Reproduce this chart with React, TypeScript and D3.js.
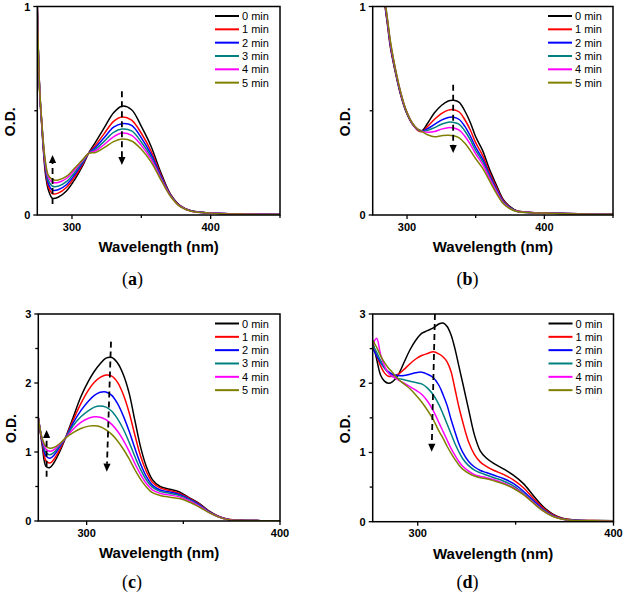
import React from "react";
import * as d3 from "d3";

const LABELS = ["0 min", "1 min", "2 min", "3 min", "4 min", "5 min"];
const COLORS = ["#000000", "#ff0000", "#0000ff", "#008080", "#ff00ff", "#808000"];

// ---------- panel (a)
const WL_A = [275, 276, 277, 278, 279.5, 281, 283, 286, 290, 296, 302, 308, 312, 317, 323, 330, 336, 343, 350, 357, 364, 371, 378, 386, 400, 425, 450];
const A0 = [1.0, 0.72, 0.55, 0.45, 0.3, 0.19, 0.12, 0.08, 0.085, 0.115, 0.17, 0.24, 0.297, 0.35, 0.415, 0.49, 0.522, 0.505, 0.425, 0.33, 0.205, 0.1, 0.045, 0.02, 0.01, 0.005, 0.002];
const A1 = [1.0, 0.72, 0.556, 0.456, 0.312, 0.208, 0.137, 0.102, 0.105, 0.132, 0.183, 0.247, 0.296, 0.335, 0.388, 0.449, 0.47, 0.455, 0.392, 0.307, 0.195, 0.097, 0.044, 0.019, 0.01, 0.005, 0.002];
const A2 = [1.0, 0.725, 0.56, 0.46, 0.32, 0.22, 0.15, 0.119, 0.121, 0.145, 0.194, 0.252, 0.296, 0.325, 0.369, 0.421, 0.438, 0.43, 0.37, 0.292, 0.188, 0.095, 0.043, 0.019, 0.0095, 0.0045, 0.002];
const A3 = [1.0, 0.727, 0.564, 0.464, 0.327, 0.231, 0.165, 0.138, 0.138, 0.16, 0.205, 0.258, 0.296, 0.316, 0.352, 0.396, 0.412, 0.403, 0.35, 0.279, 0.181, 0.093, 0.042, 0.0185, 0.0093, 0.0043, 0.002];
const A4 = [1.0, 0.728, 0.567, 0.467, 0.333, 0.24, 0.18, 0.157, 0.156, 0.175, 0.217, 0.264, 0.296, 0.308, 0.337, 0.375, 0.393, 0.382, 0.334, 0.268, 0.176, 0.092, 0.041, 0.0183, 0.0092, 0.0042, 0.002];
const A5 = [1.0, 0.73, 0.57, 0.47, 0.34, 0.25, 0.19, 0.17, 0.168, 0.185, 0.225, 0.268, 0.295, 0.3, 0.322, 0.352, 0.364, 0.355, 0.315, 0.255, 0.17, 0.09, 0.04, 0.018, 0.009, 0.004, 0.002];

// ---------- panel (b)
const WL_B = [282, 284, 286, 288, 291, 295, 299, 304, 308, 311, 315, 320, 325, 330, 334, 338, 342, 346, 350, 355, 360, 365, 370, 375, 380, 390, 400, 425, 450];
const B0 = [1.12, 1.0, 0.9, 0.8, 0.7, 0.585, 0.5, 0.435, 0.41, 0.405, 0.44, 0.49, 0.525, 0.547, 0.55, 0.54, 0.5, 0.445, 0.375, 0.31, 0.22, 0.145, 0.075, 0.04, 0.02, 0.012, 0.01, 0.006, 0.003];
const B1 = [1.128, 1.008, 0.908, 0.808, 0.705, 0.589, 0.503, 0.436, 0.405, 0.4, 0.425, 0.459, 0.486, 0.503, 0.505, 0.494, 0.458, 0.409, 0.347, 0.287, 0.205, 0.134, 0.07, 0.037, 0.019, 0.012, 0.01, 0.006, 0.003];
const B2 = [1.134, 1.014, 0.914, 0.814, 0.71, 0.592, 0.505, 0.437, 0.408, 0.402, 0.414, 0.435, 0.455, 0.468, 0.469, 0.458, 0.426, 0.38, 0.325, 0.269, 0.194, 0.126, 0.065, 0.035, 0.018, 0.0115, 0.0095, 0.0055, 0.003];
const B3 = [1.139, 1.019, 0.919, 0.819, 0.712, 0.594, 0.506, 0.438, 0.41, 0.402, 0.406, 0.419, 0.435, 0.445, 0.444, 0.435, 0.404, 0.361, 0.31, 0.257, 0.186, 0.12, 0.063, 0.034, 0.018, 0.0113, 0.0093, 0.0053, 0.003];
const B4 = [1.143, 1.023, 0.923, 0.823, 0.716, 0.597, 0.508, 0.439, 0.41, 0.401, 0.397, 0.4, 0.412, 0.419, 0.417, 0.407, 0.379, 0.34, 0.293, 0.244, 0.177, 0.114, 0.059, 0.032, 0.018, 0.0112, 0.0092, 0.0052, 0.003];
const B5 = [1.15, 1.03, 0.93, 0.83, 0.72, 0.6, 0.51, 0.44, 0.41, 0.4, 0.385, 0.375, 0.38, 0.383, 0.38, 0.37, 0.345, 0.31, 0.27, 0.225, 0.165, 0.105, 0.055, 0.03, 0.017, 0.011, 0.009, 0.005, 0.003];

// ---------- panel (c)
const WL_C = [275, 277, 279, 281, 283, 286, 289, 293, 297, 301, 304, 307, 310, 313, 316, 319, 322, 325, 328, 331, 334, 338, 343, 348, 353, 358, 363, 368, 373, 380, 390, 400];
const C0 = [1.5, 1.1, 0.79, 0.775, 0.84, 1.0, 1.2, 1.5, 1.8, 2.03, 2.17, 2.28, 2.36, 2.37, 2.29, 2.12, 1.85, 1.45, 1.06, 0.78, 0.6, 0.5, 0.46, 0.42, 0.34, 0.26, 0.15, 0.07, 0.025, 0.01, 0.005, 0.004];
const C1 = [1.5, 1.14, 0.87, 0.84, 0.89, 1.03, 1.2, 1.46, 1.7, 1.9, 2.01, 2.08, 2.115, 2.1, 2.01, 1.83, 1.57, 1.24, 0.93, 0.71, 0.56, 0.48, 0.44, 0.4, 0.33, 0.25, 0.145, 0.068, 0.024, 0.01, 0.005, 0.004];
const C2 = [1.5, 1.16, 0.94, 0.91, 0.95, 1.07, 1.2, 1.42, 1.6, 1.74, 1.82, 1.865, 1.87, 1.82, 1.7, 1.52, 1.3, 1.05, 0.82, 0.64, 0.52, 0.45, 0.42, 0.385, 0.32, 0.24, 0.14, 0.066, 0.023, 0.009, 0.005, 0.004];
const C3 = [1.5, 1.18, 0.99, 0.96, 0.99, 1.09, 1.2, 1.38, 1.51, 1.6, 1.65, 1.667, 1.65, 1.59, 1.48, 1.33, 1.14, 0.93, 0.74, 0.59, 0.49, 0.43, 0.4, 0.37, 0.31, 0.23, 0.135, 0.064, 0.022, 0.009, 0.005, 0.004];
const C4 = [1.5, 1.19, 1.04, 1.01, 1.03, 1.11, 1.2, 1.33, 1.43, 1.49, 1.51, 1.505, 1.47, 1.4, 1.3, 1.17, 1.01, 0.83, 0.67, 0.54, 0.45, 0.4, 0.375, 0.35, 0.295, 0.22, 0.13, 0.062, 0.022, 0.009, 0.005, 0.004];
const C5 = [1.5, 1.2, 1.08, 1.055, 1.065, 1.12, 1.2, 1.28, 1.34, 1.375, 1.38, 1.365, 1.32, 1.255, 1.16, 1.04, 0.9, 0.74, 0.6, 0.49, 0.41, 0.37, 0.345, 0.325, 0.275, 0.205, 0.125, 0.06, 0.02, 0.008, 0.005, 0.003];

// ---------- panel (d)
const WL_D = [277, 279, 281, 283, 285, 287, 290, 293, 296, 299, 302, 305, 308, 311, 313, 315, 317, 319, 321, 323, 326, 329, 332, 335, 339, 344, 349, 354, 359, 364, 369, 374, 380, 390, 400];
const D0 = [2.6, 2.35, 2.12, 2.03, 2.0, 2.02, 2.12, 2.3, 2.48, 2.62, 2.72, 2.76, 2.8, 2.86, 2.87, 2.82, 2.7, 2.5, 2.25, 2.0, 1.62, 1.25, 1.02, 0.92, 0.84, 0.76, 0.67, 0.55, 0.38, 0.22, 0.11, 0.05, 0.025, 0.018, 0.015];
const D1 = [2.55, 2.4, 2.25, 2.15, 2.1, 2.1, 2.13, 2.2, 2.28, 2.35, 2.4, 2.43, 2.455, 2.42, 2.38, 2.31, 2.17, 1.92, 1.66, 1.44, 1.15, 0.97, 0.86, 0.8, 0.74, 0.68, 0.6, 0.49, 0.34, 0.2, 0.1, 0.045, 0.022, 0.016, 0.014];
const D2 = [2.5, 2.4, 2.3, 2.22, 2.17, 2.13, 2.11, 2.11, 2.13, 2.15, 2.16, 2.13, 2.08, 1.96, 1.83, 1.68, 1.48, 1.3, 1.13, 1.0, 0.87, 0.79, 0.74, 0.71, 0.67, 0.62, 0.55, 0.44, 0.31, 0.18, 0.09, 0.04, 0.02, 0.015, 0.013];
const D3 = [2.55, 2.45, 2.33, 2.22, 2.15, 2.1, 2.07, 2.05, 2.03, 2.01, 1.99, 1.93, 1.83, 1.68, 1.55, 1.41, 1.27, 1.13, 1.01, 0.91, 0.81, 0.745, 0.705, 0.675, 0.635, 0.585, 0.515, 0.41, 0.29, 0.17, 0.085, 0.038, 0.019, 0.014, 0.012];
const D4 = [2.55, 2.65, 2.42, 2.25, 2.15, 2.1, 2.05, 2.0, 1.95, 1.9, 1.84, 1.74, 1.6, 1.42, 1.3, 1.18, 1.06, 0.96, 0.87, 0.8, 0.73, 0.68, 0.655, 0.635, 0.605, 0.555, 0.49, 0.4, 0.28, 0.16, 0.08, 0.036, 0.018, 0.013, 0.011];
const D5 = [2.62, 2.52, 2.4, 2.3, 2.22, 2.16, 2.06, 1.99, 1.92, 1.83, 1.73, 1.61, 1.47, 1.3, 1.2, 1.09, 0.99, 0.9, 0.82, 0.76, 0.7, 0.66, 0.635, 0.62, 0.59, 0.545, 0.48, 0.39, 0.27, 0.155, 0.075, 0.034, 0.017, 0.012, 0.01];

// ---------- ticks
const X_MAJOR = [300, 400];
const X_MINOR_AB = [350, 450];
const X_MINOR_CD = [350];
const Y_MAJOR_AB = [0, 1];
const Y_MINOR_AB = [0.5];
const Y_MAJOR_CD = [0, 1, 2, 3];
const Y_MINOR_CD = [0.5, 1.5, 2.5];

// ---------- arrows (data coordinates: from -> tip)
const ARROWS_A = [
  { x1: 286, y1: 0.053, x2: 286, y2: 0.288 },
  { x1: 336, y1: 0.593, x2: 336, y2: 0.24 },
];
const ARROWS_B = [{ x1: 333.6, y1: 0.625, x2: 333.6, y2: 0.297 }];
const ARROWS_C = [
  { x1: 279.3, y1: 0.64, x2: 279.3, y2: 1.32 },
  { x1: 312.6, y1: 2.6, x2: 310.4, y2: 0.714 },
];
const ARROWS_D = [{ x1: 308.8, y1: 3.0, x2: 307.1, y2: 1.01 }];

const PANELS = [
  { id: "a", wl: WL_A, series: [A0, A1, A2, A3, A4, A5], xDomain: [275, 450], yDomain: [0, 1], left: 37.3, right: 280, top: 6.5, bottom: 215, xMinor: X_MINOR_AB, yMajor: Y_MAJOR_AB, yMinor: Y_MINOR_AB, arrows: ARROWS_A, capX: 132.5, capY: 285 },
  { id: "b", wl: WL_B, series: [B0, B1, B2, B3, B4, B5], xDomain: [275, 450], yDomain: [0, 1], left: 372.7, right: 613, top: 6.5, bottom: 215, xMinor: X_MINOR_AB, yMajor: Y_MAJOR_AB, yMinor: Y_MINOR_AB, arrows: ARROWS_B, capX: 467.5, capY: 285 },
  { id: "c", wl: WL_C, series: [C0, C1, C2, C3, C4, C5], xDomain: [275, 400], yDomain: [0, 3], left: 38.3, right: 280, top: 314, bottom: 521, xMinor: X_MINOR_CD, yMajor: Y_MAJOR_CD, yMinor: Y_MINOR_CD, arrows: ARROWS_C, capX: 132, capY: 588 },
  { id: "d", wl: WL_D, series: [D0, D1, D2, D3, D4, D5], xDomain: [277, 400], yDomain: [0, 3], left: 372.7, right: 613.5, top: 314, bottom: 521.7, xMinor: X_MINOR_CD, yMajor: Y_MAJOR_CD, yMinor: Y_MINOR_CD, arrows: ARROWS_D, capX: 467.5, capY: 588 },
];

const SANS = "'Liberation Sans', Arial, Helvetica, sans-serif";
const SERIF = "'Liberation Serif', 'Times New Roman', serif";

function Arrow({ x1, y1, x2, y2 }: { x1: number; y1: number; x2: number; y2: number }) {
  const dx = x2 - x1;
  const dy = y2 - y1;
  const len = Math.sqrt(dx * dx + dy * dy);
  const ux = dx / len;
  const uy = dy / len;
  const head = 8;
  const hw = 3.6;
  const bx = x2 - ux * head;
  const by = y2 - uy * head;
  const nx = -uy;
  const ny = ux;
  return (
    <g>
      <line x1={x1} y1={y1} x2={bx} y2={by} stroke="#000" strokeWidth={1.8} strokeDasharray="6,4" />
      <polygon points={`${x2},${y2} ${bx + nx * hw},${by + ny * hw} ${bx - nx * hw},${by - ny * hw}`} fill="#000" />
    </g>
  );
}

function Panel({ p }: { p: any }) {
  const x = d3.scaleLinear().domain(p.xDomain).range([p.left, p.right]);
  const y = d3.scaleLinear().domain(p.yDomain).range([p.bottom, p.top]);
  const line = d3
    .line<number>()
    .x((_, i) => x(p.wl[i]))
    .y((d) => y(d))
    .curve(d3.curveCatmullRom.alpha(0.5));
  const clipId = `clip-${p.id}`;
  const cy = (p.top + p.bottom) / 2;
  return (
    <g>
      <defs>
        <clipPath id={clipId}>
          <rect x={p.left} y={p.top} width={p.right - p.left} height={p.bottom - p.top} />
        </clipPath>
      </defs>
      <g clipPath={`url(#${clipId})`}>
        {p.series.map((s: number[], i: number) => (
          <path key={i} d={line(s) || ""} fill="none" stroke={COLORS[i]} strokeWidth={1.5} strokeLinejoin="round" />
        ))}
      </g>
      {p.arrows.map((a: any, i: number) => (
        <Arrow key={i} x1={x(a.x1)} y1={y(a.y1)} x2={x(a.x2)} y2={y(a.y2)} />
      ))}
      <rect x={p.left} y={p.top} width={p.right - p.left} height={p.bottom - p.top} fill="none" stroke="#000" strokeWidth={1.5} />
      {X_MAJOR.map((t) => (
        <g key={`xm${t}`}>
          <line x1={x(t)} x2={x(t)} y1={p.bottom} y2={p.bottom + 4} stroke="#000" strokeWidth={1.3} />
          <text x={x(t)} y={p.bottom + 15.5} textAnchor="middle" fontFamily={SANS} fontWeight="bold" fontSize={11}>
            {t}
          </text>
        </g>
      ))}
      {p.xMinor.map((t: number) => (
        <line key={`xn${t}`} x1={x(t)} x2={x(t)} y1={p.bottom} y2={p.bottom + 3} stroke="#000" strokeWidth={1.3} />
      ))}
      {p.yMajor.map((t: number) => (
        <g key={`ym${t}`}>
          <line x1={p.left - 4} x2={p.left} y1={y(t)} y2={y(t)} stroke="#000" strokeWidth={1.3} />
          <text x={p.left - 7} y={y(t) + 4} textAnchor="end" fontFamily={SANS} fontWeight="bold" fontSize={11}>
            {t}
          </text>
        </g>
      ))}
      {p.yMinor.map((t: number) => (
        <line key={`yn${t}`} x1={p.left - 3} x2={p.left} y1={y(t)} y2={y(t)} stroke="#000" strokeWidth={1.3} />
      ))}
      <text x={(p.left + p.right) / 2} y={p.bottom + 37} textAnchor="middle" fontFamily={SANS} fontWeight="bold" fontSize={15}>
        Wavelength (nm)
      </text>
      <text
        transform={`translate(${p.left - 22.5},${cy + 11}) rotate(-90)`}
        textAnchor="middle"
        fontFamily={SANS}
        fontWeight="bold"
        fontSize={14}
      >
        O.D.
      </text>
      {LABELS.map((lab, i) => {
        const ry = p.top + 9.5 + i * 13.33;
        return (
          <g key={lab}>
            <line x1={p.right - 65} x2={p.right - 41} y1={ry} y2={ry} stroke={COLORS[i]} strokeWidth={2} />
            <text x={p.right - 38} y={ry + 4} fontFamily={SANS} fontSize={11} fill="#000">
              {lab}
            </text>
          </g>
        );
      })}
      <text x={p.capX} y={p.capY} textAnchor="middle" fontFamily={SERIF} fontSize={18}>
        (<tspan fontWeight="bold">{p.id}</tspan>)
      </text>
    </g>
  );
}

export default function App() {
  return (
    <svg
      width={625}
      height={598}
      viewBox="0 0 625 598"
      style={{ position: "absolute", left: 0, top: 0, background: "#fff", display: "block" }}
    >
      <rect x={0} y={0} width={625} height={598} fill="#fff" />
      {PANELS.map((p) => (
        <Panel key={p.id} p={p} />
      ))}
    </svg>
  );
}
